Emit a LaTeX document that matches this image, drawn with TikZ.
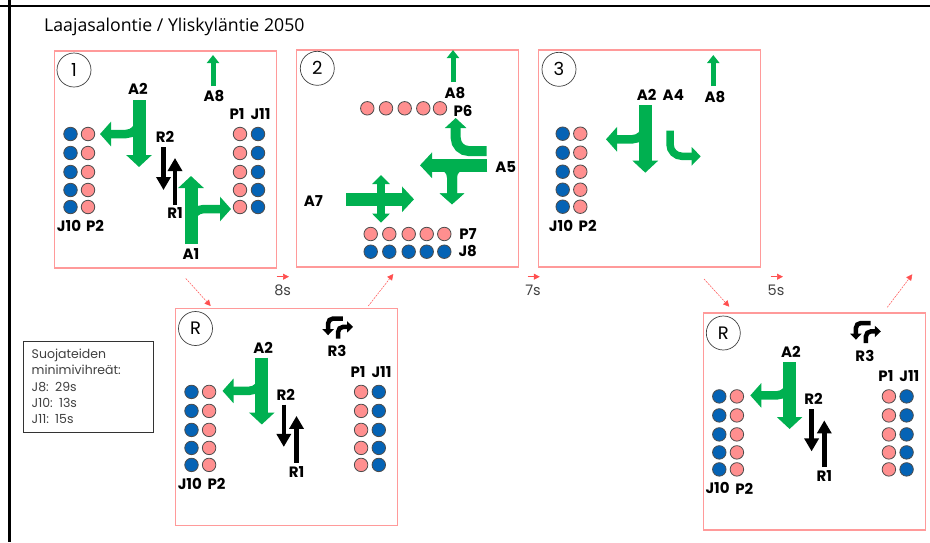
\documentclass[tikz,border=0pt]{standalone}
\usepackage{fontspec}
\usetikzlibrary{arrows.meta, positioning}
\setmainfont{Poppins}
\newfontfamily\titlefont{Open Sans}

\definecolor{armgreen}{HTML}{00B050}
\definecolor{walkpink}{HTML}{FF8F8F}
\definecolor{cycleblue}{HTML}{0563B5}
\definecolor{framepink}{HTML}{FF9A9A}
\definecolor{linkred}{HTML}{FF4F4F}

\tikzset{
    lane/.style={font=\bfseries\fontsize{15}{17}\selectfont, inner sep=0pt},
    phase/.style={draw=black!75, circle, line width=0.7pt, minimum size=34pt, inner sep=0pt, font=\fontsize{18}{20}\selectfont},
    panel/.style={draw=framepink, line width=1.2pt, minimum width=222pt, minimum height=217pt, inner sep=0pt, outer sep=0pt},
    walk/.style={draw=black!70, fill=walkpink, circle, line width=0.8pt, minimum size=13.5pt, inner sep=0pt},
    cycle/.style={draw=black!70, fill=cycleblue, circle, line width=0.8pt, minimum size=13.5pt, inner sep=0pt},
    armbig/.style={draw=armgreen, line width=13pt, -{Triangle[length=12pt,width=25pt]}},
    armmid/.style={draw=armgreen, line width=8.5pt, rounded corners=13pt, -{Triangle[length=11pt,width=24pt]}},
    armsmall/.style={draw=armgreen, line width=7.5pt, rounded corners=9pt, -{Triangle[length=9pt,width=18pt]}},
    armtiny/.style={draw=armgreen, line width=5pt, -{Triangle[length=8pt,width=12pt]}},
    railarm/.style={draw=black, line width=4.5pt, -{Triangle[length=13pt,width=14pt]}},
    railturn/.style={draw=black, line width=4.5pt, rounded corners=5pt, -{Triangle[length=6pt,width=11pt]}},
    link/.style={draw=linkred, line width=0.5pt, dash pattern=on 2pt off 1pt, -{Triangle[length=6pt,width=6pt]}},
    tick/.style={draw=linkred, line width=0.7pt, -{Triangle[length=6pt,width=6pt]}},
    secs/.style={font=\fontsize{14.5}{16}\selectfont, text=black!75, inner sep=0pt},
}

% column of five signals
\newcommand{\sigcol}[4]{%
    \foreach \dy [count=\i] in {0,19,38,56,73}{%
        \node[#4] (#1\i) at (#2,#3+\dy) {};
    }%
}

% the all-red phase, drawn twice
\newcommand{\redphase}{%
    \node[panel, anchor=north west] (frame) at (0,0) {};
    \node[phase] (num) at (20,20) {R};
    \node[lane] (a2) at (87.6,39) {A2};
    \node[lane] (r3) at (161.6,42.7) {R3};
    \node[lane] (r2) at (110.3,86) {R2};
    \node[lane] (r1) at (121,163.4) {R1};
    \node[lane] (p1) at (182.6,63.4) {P1};
    \node[lane] (j11) at (206,63.4) {J11};
    \node[lane] (j10) at (14.3,175) {J10};
    \node[lane] (p2) at (41,175.7) {P2};
    \draw[armmid] (86.3,62) |- (47,82.4);
    \draw[armbig] (86.3,49) -- (86.3,116);
    \draw[railarm] (108.3,96) -- (108.3,138.4);
    \draw[railarm] (121,154) -- (121,107.4);
    \draw[railturn] (167.3,10) -| (152.6,26.7);
    \draw[railturn] (162.6,30) |- (177.6,18.4);
    \sigcol{jw}{16}{83.4}{cycle}
    \sigcol{pw}{33.6}{83.4}{walk}
    \sigcol{pe}{185.6}{83.4}{walk}
    \sigcol{je}{203.3}{83.4}{cycle}
}

\begin{document}
\begin{tikzpicture}[x=1pt, y=-1pt]
    \useasboundingbox (0,0) rectangle (930,542);

    % Sheet edges
    \draw[line width=2pt] (0,6) -- (930,6);
    \draw[line width=3pt] (9,0) -- (9,542);

    \node[anchor=base west, inner sep=0pt, font=\titlefont\fontsize{17.7}{20}\selectfont] (title) at (44,31) {Laajasalontie / Yliskyläntie 2050};

    % Phase 1
    \node[panel, anchor=north west] (frame1) at (54.5,51) {};
    \node[phase] (num1) at (74,70) {1};
    \node[lane] (a21) at (138,89) {A2};
    \node[lane] (a81) at (214,96.5) {A8};
    \node[lane] (r21) at (165,137) {R2};
    \node[lane] (r11) at (175,213.5) {R1};
    \node[lane] (a11) at (191,254) {A1};
    \node[lane] (p11) at (237,114) {P1};
    \node[lane] (j111) at (260.5,114) {J11};
    \node[lane] (j101) at (69,226) {J10};
    \node[lane] (p21) at (95,226) {P2};
    \draw[armmid] (139,113) |- (100,134);
    \draw[armbig] (139,100) -- (139,167);
    \draw[armmid] (191,231) |- (231,209);
    \draw[armbig] (191,244) -- (191,176);
    \draw[armtiny] (213,86) -- (213,55);
    \draw[railarm] (163.5,147) -- (163.5,190);
    \draw[railarm] (175,205) -- (175,158);
    \sigcol{jw1-}{70.5}{134}{cycle}
    \sigcol{pw1-}{88}{134}{walk}
    \sigcol{pe1-}{240}{134}{walk}
    \sigcol{je1-}{258}{134}{cycle}

    % Phase 2
    \node[panel, anchor=north west] (frame2) at (296.7,50) {};
    \node[phase] (num2) at (317.3,68.3) {2};
    \node[lane] (a82) at (455,92.7) {A8};
    \node[lane] (p62) at (463,110.7) {P6};
    \node[lane] (a52) at (505.7,167.3) {A5};
    \node[lane] (a72) at (313.3,201) {A7};
    \node[lane] (p72) at (468,234) {P7};
    \node[lane] (j82) at (467.7,251) {J8};
    \draw[armtiny] (453,82) -- (453,50);
    \draw[armbig] (487.3,165.3) -- (420,165.3);
    \draw[armmid, line width=10pt, rounded corners=12pt] (470,165.3) -| (452,204.3);
    \draw[armmid, line width=10pt, rounded corners=12pt] (434,165.3) -| (452,204.3);
    \draw[armmid, line width=10pt, rounded corners=13pt, -{Triangle[length=10pt,width=21pt]}] (486.7,151) -| (455.7,118);
    \draw[armbig] (346,199.3) -- (414,199.3);
    \draw[armsmall, {Triangle[length=9pt,width=17pt]}-{Triangle[length=9pt,width=17pt]}] (381,222.7) -- (381,175);
    \foreach \x [count=\i] in {367.3,386,404.7,423.3,440}{
        \node[walk] (p6\i) at (\x,108.3) {};
    }
    \foreach \x [count=\i] in {370.7,389.3,408.7,426.7,444.3}{
        \node[walk] (p7\i) at (\x,234) {};
        \node[cycle] (j8\i) at (\x,251.7) {};
    }

    % Phase 3
    \node[panel, anchor=north west] (frame3) at (538.7,50) {};
    \node[phase] (num3) at (559,69.3) {3};
    \node[lane] (a23) at (646.7,95) {A2};
    \node[lane] (a43) at (673.3,95) {A4};
    \node[lane] (a83) at (715,96.7) {A8};
    \node[lane] (j103) at (561,225.7) {J10};
    \node[lane] (p23) at (587.7,225.7) {P2};
    \draw[armmid] (645.3,118) |- (606,139.3);
    \draw[armbig] (645.3,105) -- (645.3,172.7);
    \draw[armsmall, rounded corners=12pt] (670,130.7) |- (700.7,156.3);
    \draw[armtiny] (713.3,86) -- (713.3,55);
    \sigcol{jw3-}{562.7}{133.7}{cycle}
    \sigcol{pw3-}{580.3}{133.7}{walk}

    % All-red phases
    \begin{scope}[shift={(175.5,308.5)}, name prefix=ra-]
        \redphase
    \end{scope}
    \begin{scope}[shift={(703.3,313)}, name prefix=rb-]
        \redphase
    \end{scope}

    % Links between phases
    \coordinate (linka) at (185.7,278.3);
    \coordinate (linkb) at (210.7,306);
    \coordinate (linkc) at (368.3,306);
    \coordinate (linkd) at (393.3,274);
    \coordinate (linke) at (704,279);
    \coordinate (linkf) at (729.3,306.7);
    \coordinate (linkg) at (887.3,307.3);
    \coordinate (linkh) at (912.3,274.3);
    \draw[link] (linka) -- (linkb);
    \draw[link] (linkc) -- (linkd);
    \draw[link] (linke) -- (linkf);
    \draw[link] (linkg) -- (linkh);

    % Green times
    \node[secs] (s8) at (282.7,290.7) {8s};
    \node[secs] (s7) at (533,290.7) {7s};
    \node[secs] (s5) at (776,290.7) {5s};
    \draw[tick] (276.7,276.7) -- ++(12.3,0);
    \draw[tick] (527.5,276.7) -- ++(12.3,0);
    \draw[tick] (770.7,276.7) -- ++(12.3,0);

    % Minimum greens
    \node[draw=black!80, line width=0.8pt, anchor=north west, text width=114pt, minimum height=90pt, inner sep=8pt, align=left, text=black!75, font=\fontsize{12.5}{16.3}\selectfont] (mingreen) at (23.3,340.7) {Suojateiden\\minimivihreät:\\J8: 29s\\J10: 13s\\J11: 15s};
\end{tikzpicture}
\end{document}
